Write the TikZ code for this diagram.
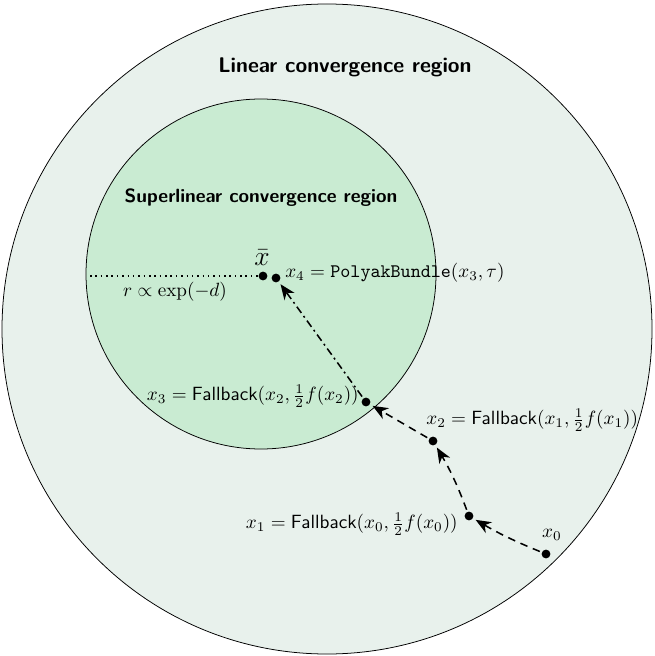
\documentclass[tikz,border=0pt]{standalone}
\usetikzlibrary{arrows.meta}
\definecolor{outerfill}{HTML}{E8F1EC}
\definecolor{innerfill}{HTML}{C9EBD2}
\begin{document}
\begin{tikzpicture}[x=0.01835cm,y=-0.01835cm,
  pt/.style={circle,fill=black,inner sep=0pt,minimum size=4.6pt},
  lbl/.style={inner sep=1pt},
  arr/.style={-{Stealth[length=8pt,width=6.5pt,inset=2.5pt]},thick,shorten >=1.5pt,shorten <=1pt},
  dsh/.style={dash pattern=on 4pt off 3pt},
  dshdot/.style={dash pattern=on 4pt off 2pt on 1pt off 2pt},
  title/.style={font=\sffamily\bfseries\fontsize{11.1}{13}\selectfont}]
\useasboundingbox (0,0) rectangle (654,656);
\fill[outerfill,draw=black,thin] (327,329) circle (325);
\fill[innerfill,draw=black,thin] (261,274) circle (175);
\node[title] (tlin) at (345,67) {Linear convergence region};
\node[font=\sffamily\bfseries] (tsup) at (261,198) {Superlinear convergence region};
\node[pt] (xb) at (263,276) {};
\node[pt] (x4) at (276,278) {};
\node[pt] (x3) at (366,402) {};
\node[pt] (x2) at (433,441) {};
\node[pt] (x1) at (469,516) {};
\node[pt] (x0) at (546,554) {};
\coordinate (dl) at (90,276);
\draw[dotted,thick] (dl) -- (xb);
\node[lbl,font=\Large] (xbl) at (262,258) {$\bar{x}$};
\node[lbl] (rl) at (175,292) {$r\propto\exp(-d)$};
\node[lbl,anchor=west] (x4l) at (283,273) {$x_4 = \texttt{PolyakBundle}(x_3,\tau)$};
\node[lbl,anchor=east] (x3l) at (361,396) {$x_3 = \textsf{Fallback}(x_2,\frac{1}{2}f(x_2))$};
\node[lbl,anchor=west] (x2l) at (424,420) {$x_2 = \textsf{Fallback}(x_1,\frac{1}{2}f(x_1))$};
\node[lbl,anchor=east] (x1l) at (460,524) {$x_1 = \textsf{Fallback}(x_0,\frac{1}{2}f(x_0))$};
\node[lbl] (x0l) at (552,535) {$x_0$};
\draw[arr,dsh] (x0) to[bend left=4] (x1);
\draw[arr,dsh] (x1) to[bend right=5] (x2);
\draw[arr,dsh] (x2) -- (x3);
\draw[arr,dshdot] (x3) -- (x4);
\end{tikzpicture}
\end{document}
